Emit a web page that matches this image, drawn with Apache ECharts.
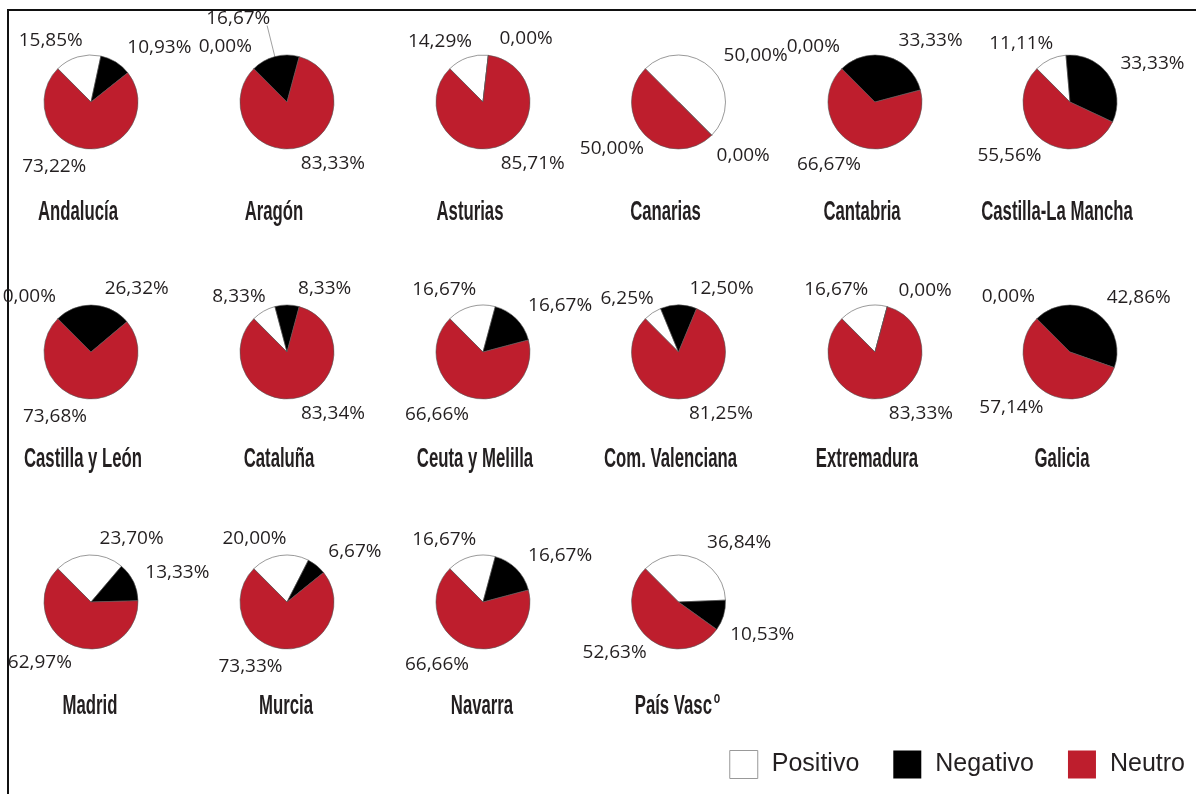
<!DOCTYPE html>
<html>
<head>
<meta charset="utf-8">
<script src="https://cdn.jsdelivr.net/npm/echarts@6/dist/echarts.min.js"></script>
<style>
  html, body { margin: 0; padding: 0; background: #fff; }
  #main { width: 1196px; height: 794px; }
</style>
</head>
<body>
<div id="main"></div>
<script>
// regiones y porcentajes (Positivo / Negativo / Neutro)
var regiones = ['Andalucía', 'Aragón', 'Asturias', 'Canarias', 'Cantabria', 'Castilla-La Mancha',
  'Castilla y León', 'Cataluña', 'Ceuta y Melilla', 'Com. Valenciana', 'Extremadura', 'Galicia',
  'Madrid', 'Murcia', 'Navarra', 'País Vasco'];
var categorias = ['Positivo', 'Negativo', 'Neutro'];
var positivo = [15.85, 0.00, 14.29, 50.00, 0.00, 11.11, 0.00, 8.33, 16.67, 6.25, 16.67, 0.00, 23.70, 20.00, 16.67, 36.84];
var negativo = [10.93, 16.67, 0.00, 0.00, 33.33, 33.33, 26.32, 8.33, 16.67, 12.50, 0.00, 42.86, 13.33, 6.67, 16.67, 10.53];
var neutro = [73.22, 83.33, 85.71, 50.00, 66.67, 55.56, 73.68, 83.34, 66.66, 81.25, 83.33, 57.14, 62.97, 73.33, 66.66, 52.63];

var colores = ['#ffffff', '#000000', '#be1e2d'];
var textColor = '#231f20';
var sans = '"Liberation Sans", Arial, sans-serif';

var chartDom = document.getElementById('main');
var myChart = echarts.init(chartDom);

function fmt(v) {
  return v.toFixed(2).replace('.', ',') + '%';
}

var colX = [91, 287, 483, 678.5, 875, 1070];
var rowY = [102, 352, 602];
var nameY = [213, 460, 707];
var nameDx = [-13, -8, -1];

// angulo medio del sector (0 = arriba, sentido horario), empezando arriba-izquierda
function anguloMedio(vals, k) {
  var antes = 0;
  for (var j = 0; j < k; j++) antes += vals[j];
  return (315 + 3.6 * (antes + vals[k] / 2)) % 360;
}

function conGuia(i) {
  return positivo[i] === 0 && anguloMedio([positivo[i], negativo[i], neutro[i]], 1) > 270;
}

// ajuste fino de las etiquetas segun el angulo medio
function moverEtiqueta(p) {
  var i = p.seriesIndex;
  var k = p.dataIndex;
  var cx = colX[i % 6];
  var cy = rowY[Math.floor(i / 6)];
  var vals = [positivo[i], negativo[i], neutro[i]];
  var theta = anguloMedio(vals, k);
  var rad = theta * Math.PI / 180;
  var rc = p.labelRect;
  var izq = rc.x + rc.width / 2 < cx;
  var out = { hideOverlap: false, dx: 0, dy: 0 };

  if (k === 0 && vals[0] === 0) {          // 0% al inicio (arriba a la izquierda)
    out.dx = 15; out.dy = -12;
  } else if (k === 1 && conGuia(i)) {      // chocaria con el 0%: arriba y con guia
    out.dx = 6; out.dy = -24;
    var lx = rc.x + rc.width * 0.95 + out.dx;
    var ly = rc.y + rc.height + out.dy - 3;
    var px = cx + 47 * Math.sin(rad);
    var py = cy - 47 * Math.cos(rad);
    out.labelLinePoints = [[px, py], [lx, ly], [lx, ly]];
  } else if (theta >= 355 || theta < 5) {  // casi arriba: siempre a la derecha
    out.dx = izq ? rc.width + 18 : 4;
    out.dy = -2;
  } else if (theta < 90) {
    out.dx = 4 - 13 * Math.sin(rad); out.dy = -3;
  } else if (theta < 180) {
    var c = Math.cos(rad - Math.PI / 2);
    out.dx = -7 - 7 * c; out.dy = -2 + 18 * c;
  } else if (theta < 270) {
    out.dx = 5 + 15 * Math.sin(rad - Math.PI); out.dy = 4;
  } else {
    out.dx = 16; out.dy = -3;
  }
  return out;
}

var series = [];
var nombres = [];
regiones.forEach(function (reg, i) {
  var cx = colX[i % 6];
  var r = Math.floor(i / 6);
  var itemNeg = { name: categorias[1], value: negativo[i] };
  if (conGuia(i)) {
    itemNeg.labelLine = { show: true, lineStyle: { color: '#888', width: 0.8 } };
  }
  series.push({
    type: 'pie',
    name: reg,
    center: [cx, rowY[r]],
    radius: 47,
    // un pelin menos de 135 para que la etiqueta de arriba caiga a la derecha
    startAngle: 134.9,
    clockwise: true,
    avoidLabelOverlap: false,
    minShowLabelAngle: 0,
    silent: true,
    itemStyle: { borderColor: '#555', borderWidth: 0.6 },
    label: {
      show: true,
      position: 'outside',
      overflow: 'none',
      formatter: function (p) { return fmt(p.value); },
      fontFamily: '"Open Sans", sans-serif',
      fontSize: 19,
      color: textColor
    },
    labelLine: { show: false, length: 14, length2: 2 },
    labelLayout: moverEtiqueta,
    data: [
      { name: categorias[0], value: positivo[i] },
      itemNeg,
      { name: categorias[2], value: neutro[i] }
    ]
  });
  // nombre de la region, en letra estrecha
  nombres.push({
    type: 'text',
    x: cx + nameDx[r],
    y: nameY[r],
    scaleX: 0.62,
    silent: true,
    style: {
      text: reg === 'País Vasco' ? 'País Vasc{sup|o}' : reg,
      align: 'center',
      verticalAlign: 'middle',
      fontFamily: sans,
      fontSize: 27,
      fontWeight: 'bold',
      fill: textColor,
      rich: {
        sup: { fontFamily: sans, fontSize: 17, fontWeight: 'bold', fill: textColor, padding: [0, 0, 17, 3] }
      }
    }
  });
});

var option = {
  animation: false,
  color: colores,
  legend: {
    right: 6,
    top: 745,
    icon: 'rect',
    itemWidth: 28,
    itemHeight: 28,
    itemGap: 34,
    textStyle: { fontFamily: sans, fontSize: 25, color: textColor, padding: [0, 0, 0, 9] },
    data: [
      { name: 'Positivo', itemStyle: { borderColor: '#999', borderWidth: 1 } },
      { name: 'Negativo', itemStyle: { borderWidth: 0 } },
      { name: 'Neutro', itemStyle: { borderWidth: 0 } }
    ]
  },
  graphic: [{
    type: 'rect',
    silent: true,
    shape: { x: 8, y: 10, width: 1300, height: 900 },
    style: { fill: 'none', stroke: '#111', lineWidth: 2 }
  }].concat(nombres),
  series: series
};

option && myChart.setOption(option);
</script>
</body>
</html>
